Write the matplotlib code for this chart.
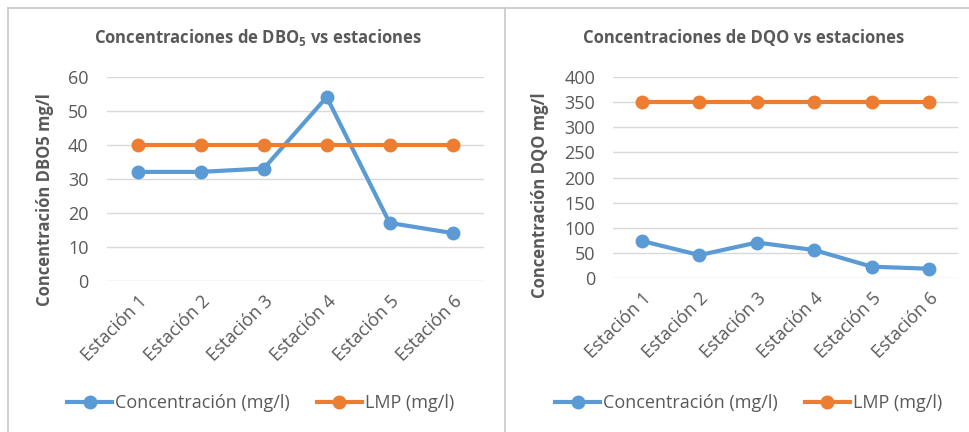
import matplotlib
matplotlib.use("Agg")
import matplotlib.pyplot as plt
from matplotlib.lines import Line2D

plt.rcParams['font.family'] = ['Open Sans', 'DejaVu Sans']
plt.rcParams['mathtext.fontset'] = 'custom'
plt.rcParams['mathtext.rm'] = 'Open Sans'
plt.rcParams['mathtext.bf'] = 'Open Sans:bold'

estaciones = ["Estación 1", "Estación 2", "Estación 3", "Estación 4", "Estación 5", "Estación 6"]
dbo_conc = [32, 32, 33, 54, 17, 14]
dbo_lmp = [40, 40, 40, 40, 40, 40]
dqo_conc = [74, 46, 71, 56, 23, 19]
dqo_lmp = [350, 350, 350, 350, 350, 350]
dbo_ticks = [0, 10, 20, 30, 40, 50, 60]
dqo_ticks = [0, 50, 100, 150, 200, 250, 300, 350, 400]
series_names = ["Concentración (mg/l)", "LMP (mg/l)"]

BLUE = "#5B9BD5"
ORANGE = "#ED7D31"
GRAY = "#595959"
GRID = "#D9D9D9"

W, H = 969, 432
fig = plt.figure(figsize=(W / 100, H / 100), dpi=100)

def fx(px):
    return px / W

def fy(py):
    return 1 - py / H

# panel borders
for seg in [((8, 969), (8, 8)), ((8, 8), (8, 432)), ((505, 505), (8, 432))]:
    fig.add_artist(Line2D([fx(v) for v in seg[0]], [fy(v) for v in seg[1]],
                          color="#C8C8C8", lw=1.2, transform=fig.transFigure))

def make_panel(rect, conc, lmp, ticks, ymax, title, ylabel, title_xy, ylabel_xy, legend_x):
    ax = fig.add_axes(rect)
    x = list(range(len(estaciones)))
    ax.plot(x, conc, color=BLUE, lw=3.0, marker='o', markersize=9, solid_capstyle='round', zorder=3)
    ax.plot(x, lmp, color=ORANGE, lw=3.0, marker='o', markersize=9, solid_capstyle='round', zorder=3)
    ax.set_xlim(-0.5, len(estaciones) - 0.5)
    ax.set_ylim(0, ymax)
    ax.set_yticks(ticks)
    ax.set_xticks(x)
    ax.set_xticklabels(estaciones, rotation=45, ha='right', va='top', rotation_mode='anchor')
    ax.tick_params(axis='both', length=0, labelsize=13, labelcolor=GRAY)
    ax.tick_params(axis='y', pad=13)
    ax.tick_params(axis='x', pad=8)
    ax.grid(axis='y', color=GRID, lw=1)
    ax.set_axisbelow(True)
    for s in ax.spines.values():
        s.set_visible(False)
    fig.text(fx(title_xy[0]), fy(title_xy[1]), title, ha='center', va='center',
             fontsize=12, fontweight='bold', color=GRAY)
    fig.text(fx(ylabel_xy[0]), fy(ylabel_xy[1]), ylabel, ha='center', va='center',
             rotation=90, fontsize=12, fontweight='bold', color=GRAY)
    handles = [Line2D([], [], color=BLUE, lw=3.0, marker='o', markersize=9),
               Line2D([], [], color=ORANGE, lw=3.0, marker='o', markersize=9)]
    fig.legend(handles, series_names, loc='center left',
               bbox_to_anchor=(fx(legend_x), fy(403)), ncol=2, frameon=False,
               fontsize=13, labelcolor=GRAY, handlelength=2.5, handletextpad=0.15,
               columnspacing=1.5, borderpad=0, borderaxespad=0)
    return ax

make_panel([fx(106.5), fy(280.7), fx(484 - 106.5), (280.7 - 76.7) / H],
           dbo_conc, dbo_lmp, dbo_ticks, 60,
           r"Concentraciones de DBO$_\mathbf{5}$ vs estaciones",
           "Concentración DBO5 mg/l", (258, 38), (45, 200), 67)

make_panel([fx(613.3), fy(278.3), fx(958 - 613.3), (278.3 - 76.7) / H],
           dqo_conc, dqo_lmp, dqo_ticks, 400,
           "Concentraciones de DQO vs estaciones",
           "Concentración DQO mg/l", (744, 38), (540, 195), 555)

fig.savefig("out.png", dpi=100, facecolor="white")
